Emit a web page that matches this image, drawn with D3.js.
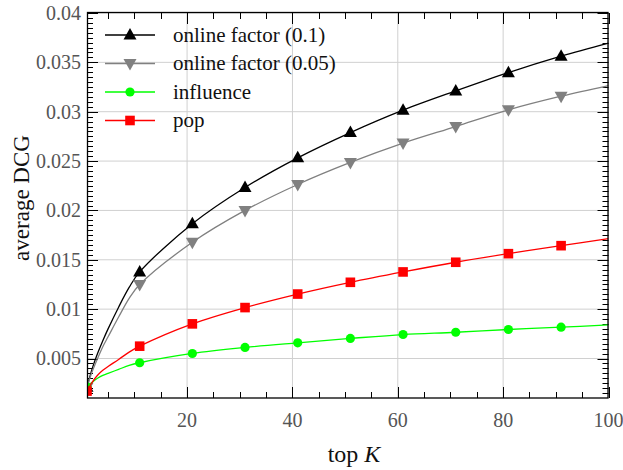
<!DOCTYPE html>
<html>
<head>
<meta charset="utf-8">
<script src="https://cdn.jsdelivr.net/npm/d3@7"></script>
<style>
  html, body { margin: 0; padding: 0; background: #fff; }
  #viz-container { width: 623px; height: 470px; }
  #viz-container text { font-family: "Liberation Serif", "DejaVu Serif", serif; }
</style>
</head>
<body>
<div id="viz-container"></div>
<script>
// ── Data ─────────────────────────────────────────────────────
const TOP_K = [1, 2, 3, 4, 5, 7, 9, 11, 21, 31, 41, 51, 61, 71, 81, 91, 100];

const ONLINE_01  = [0.0021, 0.0040, 0.0055, 0.0068, 0.0080, 0.0102, 0.0122, 0.01377,
                    0.01866, 0.02233, 0.02533, 0.02789, 0.03016, 0.03211, 0.03396, 0.03562, 0.03694];
const ONLINE_005 = [0.0021, 0.0037, 0.0050, 0.0062, 0.0072, 0.0092, 0.0111, 0.01249,
                    0.01677, 0.02000, 0.02263, 0.02486, 0.02682, 0.02850, 0.03019, 0.03157, 0.03265];
const INFLUENCE  = [0.0021, 0.0026, 0.0030, 0.0033, 0.0035, 0.0039, 0.0043, 0.00457,
                    0.00551, 0.00612, 0.00659, 0.00703, 0.00743, 0.00766, 0.00794, 0.00817, 0.00841];
const POP        = [0.0017, 0.0026, 0.0033, 0.0038, 0.0042, 0.0049, 0.00565, 0.00625,
                    0.00851, 0.01016, 0.01153, 0.01272, 0.01377, 0.01475, 0.01562, 0.01643, 0.01714];

// markers only every 10th K (1, 11, 21, ...)
const MARKER_K = [1, 11, 21, 31, 41, 51, 61, 71, 81, 91];

const SERIES = [
  { name: 'online factor (0.1)',  values: ONLINE_01,  color: '#000000', marker: 'triUp' },
  { name: 'online factor (0.05)', values: ONLINE_005, color: '#808080', marker: 'triDown' },
  { name: 'influence',            values: INFLUENCE,  color: '#00ff00', marker: 'circle' },
  { name: 'pop',                  values: POP,        color: '#ff0000', marker: 'square' },
];

const X_MAJOR = [20, 40, 60, 80, 100];
const Y_MAJOR = [0.005, 0.01, 0.015, 0.02, 0.025, 0.03, 0.035, 0.04];
const Y_LABELS = ['0.005', '0.01', '0.015', '0.02', '0.025', '0.03', '0.035', '0.04'];

const FONT = '"Liberation Serif", "DejaVu Serif", serif';

// ── Render ────────────────────────────────────────────────────
const width = 623, height = 470;
const plot = { left: 87, right: 608.5, top: 13, bottom: 398 };

const x = d3.scaleLinear().domain([1, 100]).range([plot.left, plot.right]);
const y = d3.scaleLinear().domain([0.001, 0.04]).range([plot.bottom, plot.top]);

const svg = d3.select('#viz-container').append('svg')
  .attr('width', width).attr('height', height);

svg.append('defs').append('clipPath').attr('id', 'plot-clip')
  .append('rect')
  .attr('x', plot.left).attr('y', plot.top)
  .attr('width', plot.right - plot.left).attr('height', plot.bottom - plot.top);

// ── Grid ──────────────────────────────────────────────────────
const grid = svg.append('g').attr('stroke', '#d0d0d0').attr('stroke-width', 1);
grid.selectAll('.gx').data(X_MAJOR).join('line')
  .attr('x1', d => x(d)).attr('x2', d => x(d))
  .attr('y1', plot.top).attr('y2', plot.bottom);
grid.selectAll('.gy').data(Y_MAJOR).join('line')
  .attr('x1', plot.left).attr('x2', plot.right)
  .attr('y1', d => y(d)).attr('y2', d => y(d));

// ── Ticks (inward, on all four sides) ─────────────────────────
const xMinor = d3.range(5, 100, 5).filter(v => !X_MAJOR.includes(v));
const yMinor = d3.range(2, 80).map(i => i * 0.0005).filter(v => v > 0.001 && Math.abs(v * 200 - Math.round(v * 200)) > 1e-6);

function addTicks(g, scale, orient, major, minor) {
  const ticks = g.append('g').attr('stroke', '#000').attr('stroke-width', 1);
  const both = [...major.map(v => ({ v, len: 11 })), ...minor.map(v => ({ v, len: 6 }))];
  ticks.selectAll('line').data(both).join('line').each(function(d) {
    const p = Math.round(scale(d.v)) + 0.5;
    const el = d3.select(this);
    if (orient === 'bottom') el.attr('x1', p).attr('x2', p).attr('y1', plot.bottom).attr('y2', plot.bottom - d.len);
    if (orient === 'top')    el.attr('x1', p).attr('x2', p).attr('y1', plot.top).attr('y2', plot.top + d.len);
    if (orient === 'left')   el.attr('y1', p).attr('y2', p).attr('x1', plot.left).attr('x2', plot.left + d.len);
    if (orient === 'right')  el.attr('y1', p).attr('y2', p).attr('x1', plot.right).attr('x2', plot.right - d.len);
  });
}
addTicks(svg, x, 'bottom', X_MAJOR, xMinor);
addTicks(svg, x, 'top',    X_MAJOR, xMinor);
addTicks(svg, y, 'left',   Y_MAJOR, yMinor);
addTicks(svg, y, 'right',  Y_MAJOR, yMinor);

// tick labels
svg.append('g').selectAll('text').data(X_MAJOR).join('text')
  .attr('x', d => x(d)).attr('y', 427)
  .attr('text-anchor', 'middle')
  .attr('font-family', FONT)
  .attr('fill', '#555').attr('font-size', 20)
  .text(d => d);

svg.append('g').selectAll('text').data(Y_MAJOR).join('text')
  .attr('x', 81).attr('y', d => y(d))
  .attr('dy', '0.34em')
  .attr('text-anchor', 'end')
  .attr('font-family', FONT)
  .attr('fill', '#555').attr('font-size', 20)
  .text((d, i) => Y_LABELS[i]);

// axis titles
const xTitle = svg.append('text')
  .attr('x', 354).attr('y', 462)
  .attr('text-anchor', 'middle')
  .attr('font-family', FONT)
  .attr('fill', '#111').attr('font-size', 24);
xTitle.append('tspan').text('top ');
xTitle.append('tspan').attr('font-style', 'italic').text('K');

svg.append('text')
  .attr('transform', 'translate(29,198) rotate(-90)')
  .attr('text-anchor', 'middle')
  .attr('font-family', FONT)
  .attr('fill', '#111').attr('font-size', 23)
  .text('average DCG');

// ── Markers ───────────────────────────────────────────────────
function drawMarker(g, type, cx, cy, color) {
  if (type === 'triUp') {
    g.append('path').attr('d', `M${cx},${cy - 7}L${cx + 6.5},${cy + 4.5}L${cx - 6.5},${cy + 4.5}Z`).attr('fill', color);
  } else if (type === 'triDown') {
    g.append('path').attr('d', `M${cx},${cy + 7}L${cx + 6.5},${cy - 4.5}L${cx - 6.5},${cy - 4.5}Z`).attr('fill', color);
  } else if (type === 'circle') {
    g.append('circle').attr('cx', cx).attr('cy', cy).attr('r', 4.6).attr('fill', color);
  } else {
    g.append('rect').attr('x', cx - 4.8).attr('y', cy - 4.8).attr('width', 9.6).attr('height', 9.6).attr('fill', color);
  }
}

// ── Series ────────────────────────────────────────────────────
const line = d3.line().curve(d3.curveCatmullRom.alpha(0.5)).x(d => x(d.k)).y(d => y(d.v));
const seriesG = svg.append('g').attr('clip-path', 'url(#plot-clip)');

SERIES.forEach(s => {
  const pts = TOP_K.map((k, i) => ({ k, v: s.values[i] }));
  const g = seriesG.append('g');
  g.append('path').datum(pts)
    .attr('d', line)
    .attr('fill', 'none')
    .attr('stroke', s.color)
    .attr('stroke-width', 1.3);
  pts.filter(p => MARKER_K.includes(p.k))
    .forEach(p => drawMarker(g, s.marker, x(p.k), y(p.v), s.color));
});

// frame
svg.append('rect')
  .attr('x', plot.left + 0.5).attr('y', plot.top - 0.5)
  .attr('width', plot.right - plot.left - 1).attr('height', plot.bottom - plot.top + 0.5)
  .attr('fill', 'none').attr('stroke', '#000').attr('stroke-width', 1.3);

// ── Legend ────────────────────────────────────────────────────
const legend = svg.append('g');
SERIES.forEach((s, i) => {
  const ly = 35 + i * 28.5;
  const row = legend.append('g');
  row.append('line')
    .attr('x1', 105).attr('x2', 155).attr('y1', ly).attr('y2', ly)
    .attr('stroke', s.color).attr('stroke-width', 1.3);
  drawMarker(row, s.marker, 130, ly, s.color);
  row.append('text')
    .attr('x', 173).attr('y', ly).attr('dy', '0.32em')
    .attr('font-family', FONT)
    .attr('fill', '#111').attr('font-size', 21)
    .text(s.name);
});
</script>
</body>
</html>
